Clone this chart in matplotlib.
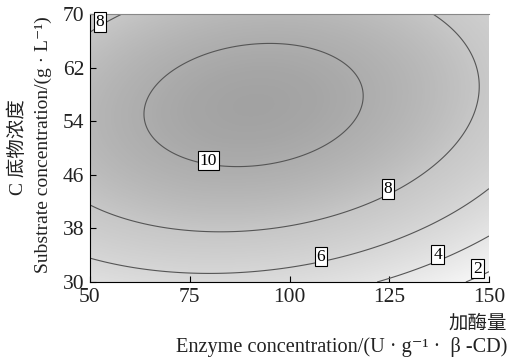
import numpy as np
import matplotlib.pyplot as plt
from matplotlib.colors import LinearSegmentedColormap

# points read along each contour line of the reference
# x = enzyme concentration, y = substrate concentration
c10_x = [63.3, 67.5, 79.6, 85.8, 110.8, 119.5, 110.8, 93.3]
c10_y = [55.2, 60.6, 48.1, 47.0, 50.6, 57.9, 63.5, 66.0]
c8_x = [50.0, 79.0, 102.5, 124.6, 141.7, 147.5, 144.2, 135.8, 57.9, 50.0]
c8_y = [41.6, 37.5, 38.2, 43.9, 49.6, 57.1, 64.1, 70.0, 70.0, 67.0]
c6_x = [50.0, 84.0, 102.5, 107.9, 135.8, 150.0]
c6_y = [33.6, 31.2, 32.0, 33.8, 38.9, 43.4]
c4_x = [124.0, 137.1, 150.0]
c4_y = [30.0, 34.1, 36.7]
c2_x = [145.0, 150.0]
c2_y = [30.0, 31.5]

levels = [2, 4, 6, 8, 10]

# boxed contour labels
label_x = [52.5, 79.6, 124.6, 107.9, 137.1, 147.1]
label_y = [68.8, 48.1, 43.9, 33.8, 34.1, 32.0]
label_txt = ['8', '10', '8', '6', '4', '2']

xticks = [50, 75, 100, 125, 150]
yticks = [30, 38, 46, 54, 62, 70]

# grey shade at each response value
shade_z = [0, 2, 4, 6, 8, 10, 12]
shade_gray = [0.99, 0.96, 0.90, 0.84, 0.78, 0.68, 0.55]

# fit the quadratic response surface through the read contour points
px = np.array(c10_x + c8_x + c6_x + c4_x + c2_x)
py = np.array(c10_y + c8_y + c6_y + c4_y + c2_y)
pz = np.array([10] * len(c10_x) + [8] * len(c8_x) + [6] * len(c6_x)
              + [4] * len(c4_x) + [2] * len(c2_x), dtype=float)


def design(x, y):
    u = (x - 100) / 50.0
    v = (y - 50) / 20.0
    return np.stack([np.ones_like(u), u, v, u * u, v * v, u * v], axis=-1)


coef, *_ = np.linalg.lstsq(design(px, py), pz, rcond=None)

xs = np.linspace(50, 150, 400)
ys = np.linspace(30, 70, 300)
X, Y = np.meshgrid(xs, ys)
Z = design(X, Y) @ coef

zmax = shade_z[-1]
cmap = LinearSegmentedColormap.from_list(
    'g', [(z / zmax, (g, g, g)) for z, g in zip(shade_z, shade_gray)])

fig = plt.figure(figsize=(5.3, 3.59), dpi=100)
ax = fig.add_axes([90 / 530, 1 - 282 / 359, 399 / 530, 268 / 359])

ax.imshow(Z, extent=[50, 150, 30, 70], origin='lower', aspect='auto',
          cmap=cmap, vmin=0, vmax=zmax, interpolation='bilinear')
ax.contour(X, Y, Z, levels=levels, colors='#555555', linewidths=0.8)

for lx, ly, t in zip(label_x, label_y, label_txt):
    ax.text(lx, ly, t, ha='center', va='center', fontsize=12.5,
            family='Liberation Serif',
            bbox=dict(boxstyle='square,pad=0.1', fc='white', ec='black', lw=0.8))

ax.set_xlim(50, 150)
ax.set_ylim(30, 70)
ax.set_xticks(xticks)
ax.set_yticks(yticks)
ax.tick_params(direction='in', length=4, width=0.8, labelsize=15.5,
               labelcolor='#222222')
ax.tick_params(axis='x', pad=4)
ax.tick_params(axis='y', pad=4)
for lab in ax.get_xticklabels() + ax.get_yticklabels():
    lab.set_family('Liberation Serif')
ax.spines['right'].set_visible(False)
ax.spines['top'].set_color('#888888')
ax.spines['top'].set_linewidth(0.8)

fam = ['Liberation Serif', 'DejaVu Serif', 'Noto Sans CJK SC']
fig.text(507 / 530, 1 - 323 / 359, '加酶量', ha='right', va='center',
         fontsize=14, family=['Noto Sans CJK SC'], color='#222222')
fig.text(507 / 530, 1 - 347 / 359, 'Enzyme concentration/(U · g⁻¹ ·  β -CD)',
         ha='right', va='center', fontsize=14.6, family=fam, color='#222222')
fig.text(18 / 530, 1 - 147 / 359, 'C 底物浓度', rotation=90, ha='center',
         va='center', fontsize=14, family=fam, color='#222222')
fig.text(43 / 530, 1 - 145 / 359, 'Substrate concentration/(g · L⁻¹)',
         rotation=90, ha='center', va='center', fontsize=14, family=fam,
         color='#222222')

fig.savefig('out.png', dpi=100)
